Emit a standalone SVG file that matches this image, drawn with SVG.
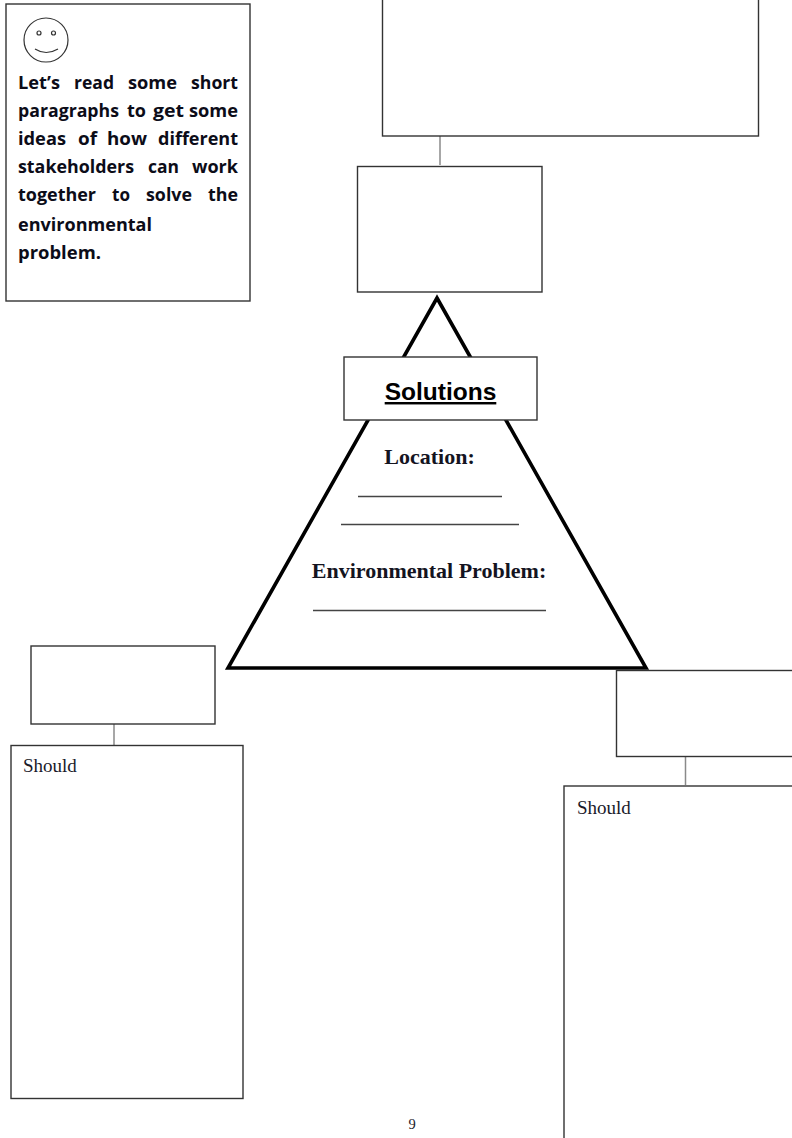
<svg xmlns="http://www.w3.org/2000/svg" width="792" height="1138" viewBox="0 0 792 1138">
<style>
.box{fill:#fff;stroke:#333;stroke-width:1.4}
.conn{stroke:#8a8a8a;stroke-width:1.5;fill:none}
.rule{stroke:#444;stroke-width:1.4;fill:none}
.w{font-family:"Open Sans","Noto Sans",sans-serif;font-weight:700;font-size:18.500px;fill:#0c0c18}
.s{font-family:"Liberation Serif",serif;font-size:19px;fill:#1a1a2a}
.h{font-family:"Liberation Serif",serif;font-weight:700;font-size:22px;fill:#14141f}
</style>
<rect width="792" height="1138" fill="#fff"/>
<g id="connectors">
<line class="conn" x1="440" y1="136" x2="440" y2="165"/>
<line class="conn" x1="114" y1="723" x2="114" y2="745"/>
<line class="conn" x1="685.5" y1="755" x2="685.5" y2="785"/>
</g>
<g id="intro">
<rect class="box" x="6" y="4" width="244" height="297"/>
<g id="smiley" fill="none" stroke="#333" stroke-width="1.2">
<circle cx="46" cy="40" r="22"/>
<circle cx="39" cy="33" r="2"/>
<circle cx="53.500" cy="33" r="2"/>
<path d="M35 49Q46 56 58 49"/>
</g>
<text class="w" x="18" y="89" textLength="42" lengthAdjust="spacingAndGlyphs">Let’s</text>
<text class="w" x="74" y="89" textLength="40" lengthAdjust="spacingAndGlyphs">read</text>
<text class="w" x="128" y="89" textLength="49" lengthAdjust="spacingAndGlyphs">some</text>
<text class="w" x="191" y="89" textLength="47" lengthAdjust="spacingAndGlyphs">short</text>
<text class="w" x="18" y="117" textLength="101" lengthAdjust="spacingAndGlyphs">paragraphs</text>
<text class="w" x="127" y="117" textLength="19" lengthAdjust="spacingAndGlyphs">to</text>
<text class="w" x="153" y="117" textLength="31" lengthAdjust="spacingAndGlyphs">get</text>
<text class="w" x="189" y="117" textLength="49" lengthAdjust="spacingAndGlyphs">some</text>
<text class="w" x="18" y="145" textLength="48" lengthAdjust="spacingAndGlyphs">ideas</text>
<text class="w" x="78" y="145" textLength="19" lengthAdjust="spacingAndGlyphs">of</text>
<text class="w" x="107" y="145" textLength="40" lengthAdjust="spacingAndGlyphs">how</text>
<text class="w" x="158" y="145" textLength="80" lengthAdjust="spacingAndGlyphs">different</text>
<text class="w" x="18" y="173" textLength="116" lengthAdjust="spacingAndGlyphs">stakeholders</text>
<text class="w" x="148" y="173" textLength="31" lengthAdjust="spacingAndGlyphs">can</text>
<text class="w" x="192" y="173" textLength="46" lengthAdjust="spacingAndGlyphs">work</text>
<text class="w" x="18" y="201" textLength="78" lengthAdjust="spacingAndGlyphs">together</text>
<text class="w" x="112" y="201" textLength="18" lengthAdjust="spacingAndGlyphs">to</text>
<text class="w" x="146" y="201" textLength="46" lengthAdjust="spacingAndGlyphs">solve</text>
<text class="w" x="208" y="201" textLength="30" lengthAdjust="spacingAndGlyphs">the</text>
<text class="w" x="18" y="231" textLength="134" lengthAdjust="spacingAndGlyphs">environmental</text>
<text class="w" x="18" y="259" textLength="83" lengthAdjust="spacingAndGlyphs">problem.</text>
</g>
<g id="top-box"><rect class="box" x="382.500" y="-2" width="376" height="138"/></g>
<g id="box-upper"><rect class="box" x="357.500" y="166.500" width="184.500" height="125.500"/></g>
<g id="triangle">
<path d="M437 298L646 668H228Z" fill="#fff" stroke="#000" stroke-width="3.6"/>
<text class="h" x="429.500" y="464" text-anchor="middle">Location:</text>
<line class="rule" x1="358" y1="496.500" x2="502" y2="496.500"/>
<line class="rule" x1="341" y1="524.500" x2="519" y2="524.500"/>
<text class="h" x="429" y="578" text-anchor="middle">Environmental Problem:</text>
<line class="rule" x1="313" y1="610.500" x2="546" y2="610.500"/>
</g>
<g id="solutions">
<rect class="box" x="344" y="357" width="193" height="63"/>
<text x="440.500" y="400" text-anchor="middle" font-family="Liberation Sans, sans-serif" font-weight="700" font-size="24.500" fill="#000" text-decoration="underline">Solutions</text>
</g>
<g id="left-box"><rect class="box" x="31" y="646" width="184" height="78"/></g>
<g id="left-should">
<rect class="box" x="11" y="745.500" width="232" height="353"/>
<text class="s" x="23" y="772">Should</text>
</g>
<g id="right-box"><rect class="box" x="616.500" y="670.500" width="180" height="86"/></g>
<g id="right-should">
<rect class="box" x="564" y="786" width="232" height="356"/>
<text class="s" x="577" y="814">Should</text>
</g>
<text x="412" y="1129" text-anchor="middle" font-family="Liberation Serif, serif" font-size="14.500" fill="#1a1a2a">9</text>
</svg>
